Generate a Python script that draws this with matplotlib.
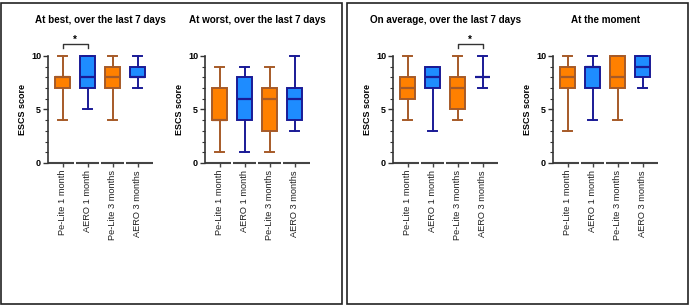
import matplotlib
matplotlib.use('Agg')
import matplotlib.pyplot as plt
from matplotlib.patches import Rectangle
from matplotlib.ticker import MultipleLocator

plt.rcParams['font.family'] = ['Liberation Sans', 'DejaVu Sans']

groups = ['Pe-Lite 1 month', 'AERO 1 month', 'Pe-Lite 3 months', 'AERO 3 months']
titles = ['At best, over the last 7 days', 'At worst, over the last 7 days',
          'On average, over the last 7 days', 'At the moment']

# per panel: [whislo, q1, med, q3, whishi] for each group
best = [[4, 7, 8, 8, 10], [5, 7, 8, 10, 10], [4, 7, 8, 9, 10], [7, 8, 8, 9, 10]]
worst = [[1, 4, 4, 7, 9], [1, 4, 6, 8, 9], [1, 3, 6, 7, 9], [3, 4, 6, 7, 10]]
average = [[4, 6, 7, 8, 10], [3, 7, 8, 9, 9], [4, 5, 7, 8, 10], [7, 8, 8, 8, 10]]
moment = [[3, 7, 8, 9, 10], [4, 7, 9, 9, 10], [4, 7, 8, 10, 10], [7, 8, 9, 10, 10]]
panels = [best, worst, average, moment]

# significance brackets (panel index, group a, group b)
sig = [(0, 0, 1), (2, 2, 3)]

fill = ['#FF8000', '#1E8CFF', '#FF8000', '#1E8CFF']
edge = ['#A65A28', '#1A1A96', '#A65A28', '#1A1A96']

W, H = 690, 305
fig = plt.figure(figsize=(W / 100, H / 100), dpi=100)

# panel frames
fig.patches.append(Rectangle((1 / W, 1.5 / H), 341 / W, 300.5 / H, transform=fig.transFigure,
                             fill=False, ec='#222222', lw=1.2))
fig.patches.append(Rectangle((347 / W, 1.5 / H), 341 / W, 300.5 / H, transform=fig.transFigure,
                             fill=False, ec='#222222', lw=1.2))

lefts = [48, 205, 393, 553]
ax_w = 105
ax_b, ax_t = 163, 56

for p, stats_in in enumerate(panels):
    ax = fig.add_axes([lefts[p] / W, 1 - ax_b / H, ax_w / W, (ax_b - ax_t) / H])
    stats = []
    for g, s in zip(groups, stats_in):
        stats.append(dict(label=g, whislo=s[0], q1=s[1], med=s[2], q3=s[3], whishi=s[4], fliers=[]))
    bp = ax.bxp(stats, positions=range(4), widths=0.62, patch_artist=True,
                showfliers=False, capwidths=0.34)
    for i in range(4):
        bp['boxes'][i].set(facecolor=fill[i], edgecolor=edge[i], linewidth=1.4, clip_on=False)
        bp['medians'][i].set(color=edge[i], linewidth=1.6, clip_on=False)
        for k in (2 * i, 2 * i + 1):
            bp['whiskers'][k].set(color=edge[i], linewidth=1.4, clip_on=False)
            bp['caps'][k].set(color=edge[i], linewidth=1.4, clip_on=False)

    ax.set_xlim(-0.58, 3.62)
    ax.set_ylim(0, 10)
    for sp in ('top', 'right', 'bottom'):
        ax.spines[sp].set_visible(False)
    ax.spines['left'].set_linewidth(1.2)
    ax.spines['left'].set_color('#333333')

    # broken x axis, one segment per group
    for i in range(4):
        x0 = -0.58 if i == 0 else i - 0.46
        ax.plot([x0, i + 0.46 if i < 3 else 3.62], [0, 0], color='#444444', lw=1.5,
                clip_on=False, solid_capstyle='butt')

    ax.yaxis.set_major_locator(MultipleLocator(5))
    ax.yaxis.set_minor_locator(MultipleLocator(1))
    ax.tick_params(axis='y', which='major', length=3.5, width=1, labelsize=6.5, pad=1.5, color='#333333')
    ax.tick_params(axis='y', which='minor', length=2.2, width=0.8, color='#333333')
    for lab in ax.get_yticklabels():
        lab.set_fontweight('bold')
    ax.set_xticks(range(4))
    ax.set_xticklabels(groups, rotation=90, fontsize=6.7, color='#222222')
    ax.tick_params(axis='x', length=3, width=1, pad=2, color='#444444')

    ax.set_ylabel('ESCS score', fontsize=6.5, fontweight='bold', labelpad=3)
    ax.text(0.5, 1.335, titles[p], transform=ax.transAxes, ha='center', va='center',
            fontsize=7.1, fontweight='bold')

    for sp_, a, b in sig:
        if sp_ == p:
            ax.plot([a, a, b, b], [10.75, 11.15, 11.15, 10.75], color='#333333', lw=1,
                    clip_on=False)
            ax.text((a + b) / 2, 11.5, '*', ha='center', va='center', fontsize=7,
                    fontweight='bold')

fig.savefig('out.png', dpi=100)
